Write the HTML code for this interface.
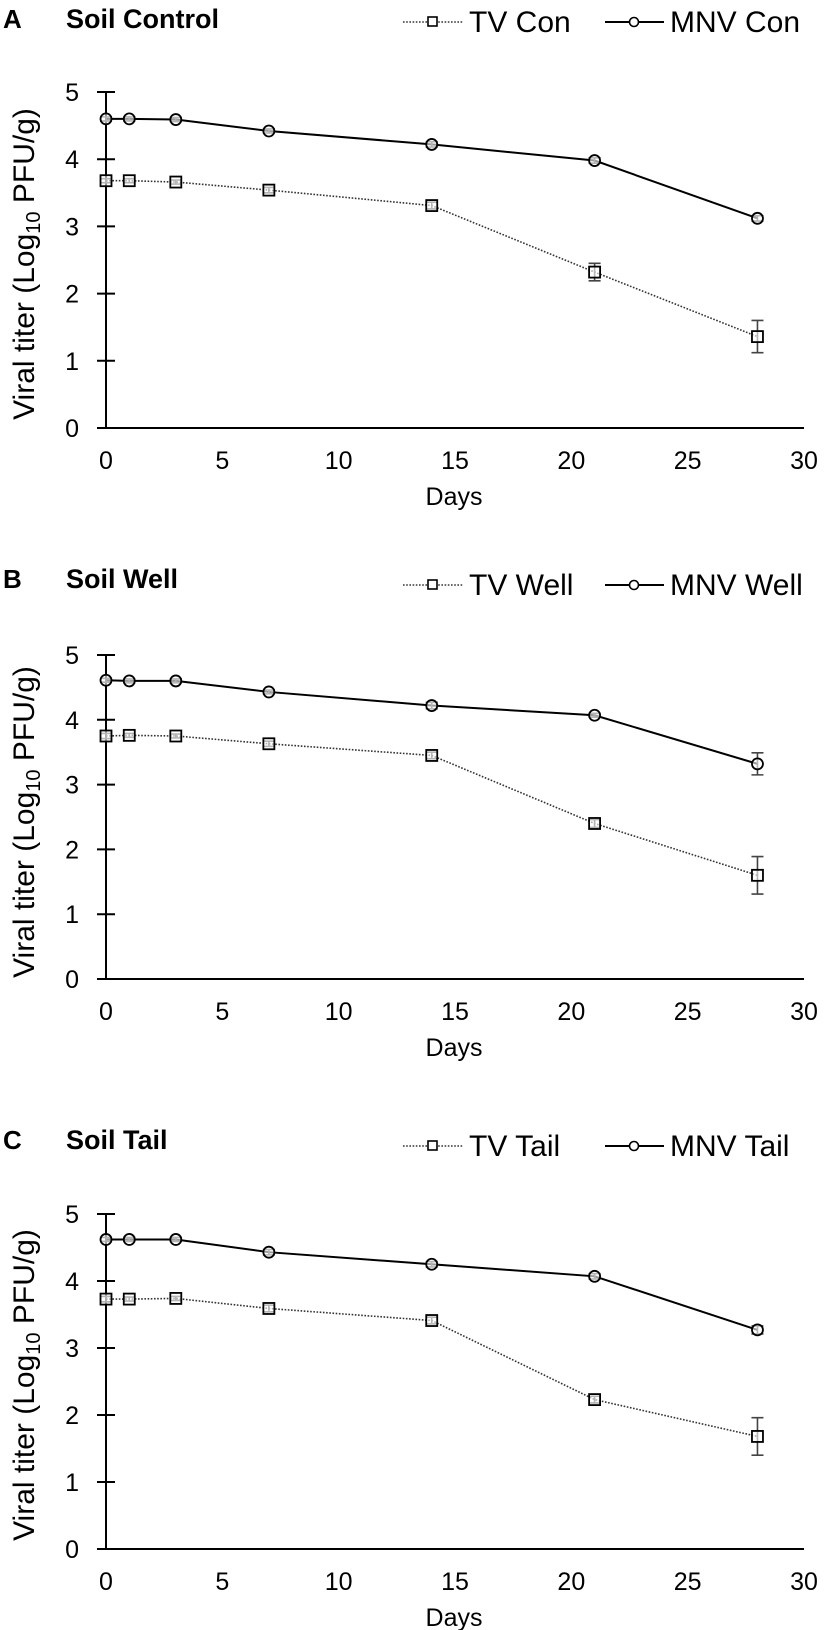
<!DOCTYPE html>
<html><head><meta charset="utf-8"><style>
html,body{margin:0;padding:0;background:#fff;}
svg{display:block;font-family:"Liberation Sans",Arial,sans-serif;}
</style></head><body>
<svg id="fig" width="827" height="1630" viewBox="0 0 827 1630" xmlns="http://www.w3.org/2000/svg"></svg>
<script>
// ---- data ----
const days = [0, 1, 3, 7, 14, 21, 28];
const xTicks = [0, 5, 10, 15, 20, 25, 30];
const yTicks = [0, 1, 2, 3, 4, 5];
const panelLetters = ["A", "B", "C"];
const panelTitles = ["Soil Control", "Soil Well", "Soil Tail"];
const tvLabels = ["TV Con", "TV Well", "TV Tail"];
const mnvLabels = ["MNV Con", "MNV Well", "MNV Tail"];
const tvA = [3.68, 3.68, 3.66, 3.54, 3.31, 2.32, 1.36];
const tvAErr = [0.03, 0.03, 0.03, 0.04, 0.05, 0.13, 0.24];
const mnvA = [4.60, 4.60, 4.59, 4.42, 4.22, 3.98, 3.12];
const mnvAErr = [0.03, 0.03, 0.03, 0.03, 0.04, 0.04, 0.04];
const tvB = [3.75, 3.76, 3.75, 3.63, 3.45, 2.40, 1.60];
const tvBErr = [0.04, 0.03, 0.03, 0.04, 0.05, 0.06, 0.29];
const mnvB = [4.61, 4.60, 4.60, 4.43, 4.22, 4.07, 3.32];
const mnvBErr = [0.03, 0.03, 0.03, 0.03, 0.05, 0.03, 0.17];
const tvC = [3.73, 3.73, 3.74, 3.59, 3.41, 2.23, 1.68];
const tvCErr = [0.04, 0.03, 0.03, 0.05, 0.05, 0.05, 0.28];
const mnvC = [4.62, 4.62, 4.62, 4.43, 4.25, 4.07, 3.27];
const mnvCErr = [0.03, 0.03, 0.03, 0.04, 0.04, 0.04, 0.06];

// ---- layout ----
const layouts = [
  {y0: 428, y5: 92, titleY: 28, legY: 22, ytY: 264},
  {y0: 979, y5: 655, titleY: 588, legY: 585, ytY: 822},
  {y0: 1549, y5: 1214, titleY: 1149, legY: 1146, ytY: 1385}
];
const X0 = 106, X30 = 804;
const tvSeries = [[tvA, tvAErr], [tvB, tvBErr], [tvC, tvCErr]];
const mnvSeries = [[mnvA, mnvAErr], [mnvB, mnvBErr], [mnvC, mnvCErr]];

const NS = "http://www.w3.org/2000/svg";
const svg = document.getElementById("fig");
function mk(tag, attrs, parent, text) {
  const e = document.createElementNS(NS, tag);
  for (const k in attrs) e.setAttribute(k, attrs[k]);
  if (text !== undefined) e.textContent = text;
  parent.appendChild(e);
  return e;
}
function xs(v) { return X0 + (X30 - X0) * v / 30; }

layouts.forEach((L, p) => {
  const ys = v => L.y0 - (L.y0 - L.y5) * v / 5;
  const g = mk("g", {}, svg);
  
  

  const letter = mk("text", {x: 3, y: L.titleY, "font-size": 26, "font-weight": "bold"}, g, panelLetters[p]);
  
  
  const title = mk("text", {x: 66, y: L.titleY, "font-size": 27, "font-weight": "bold"}, g, panelTitles[p]);
  
  

  // legend
  const lg = mk("g", {}, g);
  
  
  const e1 = mk("g", {}, lg);
  
  
  mk("line", {x1: 403, x2: 463, y1: L.legY, y2: L.legY, stroke: "#333", "stroke-width": 1.6, "stroke-dasharray": "1.6 1.6"}, e1);
  mk("rect", {x: 428, y: L.legY - 5, width: 9, height: 9, fill: "#fff", stroke: "#000", "stroke-width": 1.6}, e1);
  mk("text", {x: 469, y: L.legY + 10, "font-size": 30}, e1, tvLabels[p]);
  const e2 = mk("g", {}, lg);
  
  
  mk("line", {x1: 605, x2: 664, y1: L.legY, y2: L.legY, stroke: "#000", "stroke-width": 2}, e2);
  mk("circle", {cx: 634, cy: L.legY, r: 4.5, fill: "#fff", stroke: "#000", "stroke-width": 1.6}, e2);
  mk("text", {x: 670, y: L.legY + 10, "font-size": 30}, e2, mnvLabels[p]);

  // axes
  const ax = mk("g", {}, g);
  
  
  mk("line", {x1: X0, x2: X0, y1: L.y5, y2: L.y0, stroke: "#000", "stroke-width": 2}, ax);
  mk("line", {x1: X0 - 9, x2: X30, y1: L.y0, y2: L.y0, stroke: "#000", "stroke-width": 2}, ax);
  yTicks.forEach(t => {
    mk("line", {x1: X0 - 9, x2: X0 + 9, y1: ys(t), y2: ys(t), stroke: "#000", "stroke-width": 2}, ax);
    const tl = mk("text", {x: 79, y: ys(t) + 9, "font-size": 25, "text-anchor": "end"}, ax, String(t));
    
    
  });
  xTicks.forEach(t => {
    const tl = mk("text", {x: xs(t), y: L.y0 + 41, "font-size": 25, "text-anchor": "middle"}, ax, String(t));
    
    
  });
  const xt = mk("text", {x: 454, y: L.y0 + 77, "font-size": 25, "text-anchor": "middle"}, ax, "Days");
  
  
  const yt = mk("text", {x: 0, y: 0, "font-size": 30, "text-anchor": "middle", transform: `translate(34,${L.ytY}) rotate(-90)`}, ax);
  
  
  mk("tspan", {}, yt, "Viral titer (Log");
  mk("tspan", {"font-size": 20, dy: 6}, yt, "10");
  mk("tspan", {dy: -6}, yt, " PFU/g)");

  // series
  [["tv", tvSeries[p]], ["mnv", mnvSeries[p]]].forEach(([kind, [vals, errs]]) => {
    const sg = mk("g", {}, g);
    
    
    const pts = days.map((d, i) => xs(d) + "," + ys(vals[i])).join(" ");
    const pl = mk("polyline", {points: pts, fill: "none", stroke: kind === "tv" ? "#333" : "#000", "stroke-width": kind === "tv" ? 1.6 : 2, "stroke-dasharray": kind === "tv" ? "1.6 1.6" : "none"}, sg);
    
    
    days.forEach((d, i) => {
      const cx = xs(d), cy = ys(vals[i]);
      const top = ys(vals[i] + errs[i]), bot = ys(vals[i] - errs[i]);
      const eb = mk("path", {d: `M${cx},${top}V${bot}M${cx - 6},${top}H${cx + 6}M${cx - 6},${bot}H${cx + 6}`, stroke: "#444", "stroke-width": 1.6, fill: "none"}, sg);
      
      
      let m;
      if (kind === "tv") m = mk("rect", {x: cx - 5.5, y: cy - 5.5, width: 11, height: 11, fill: "#fff", stroke: "#000", "stroke-width": 1.8, "fill-opacity": 0.6}, sg);
      else m = mk("circle", {cx: cx, cy: cy, r: 5.5, fill: "#fff", stroke: "#000", "stroke-width": 1.8, "fill-opacity": 0.6}, sg);
      
      
    });
  });
});
</script>
</body></html>
